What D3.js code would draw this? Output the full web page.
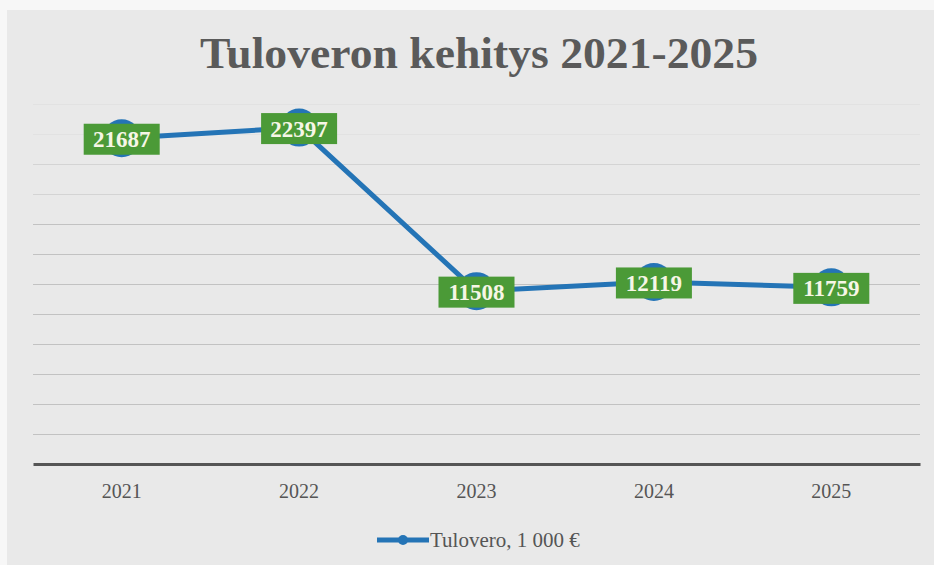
<!DOCTYPE html>
<html>
<head>
<meta charset="utf-8">
<script src="https://cdn.jsdelivr.net/npm/d3@7"></script>
<style>
    body { margin: 0; background: #f7f7f7; }
    svg { display: block; }
</style>
</head>
<body>
<div id="chart"></div>
<script>
// data
var years = ["2021", "2022", "2023", "2024", "2025"];
var tulovero = [21687, 22397, 11508, 12119, 11759];
var yTicks = [0, 2000, 4000, 6000, 8000, 10000, 12000, 14000, 16000, 18000, 20000, 22000, 24000];
var seriesName = "Tulovero, 1 000 €";
var title = "Tuloveron kehitys 2021-2025";

var width = 934,
    height = 565;

var serif = "'Liberation Serif', 'DejaVu Serif', serif";
var blue = "#2474b6";
var green = "#4b9a37";

var svg = d3.select("#chart").append("svg")
    .attr("width", width)
    .attr("height", height);

// paper background of the scan
svg.append("rect")
    .attr("x", 7).attr("y", 10)
    .attr("width", width - 7).attr("height", height - 10)
    .attr("fill", "#e9e9e9");

var x = d3.scaleBand()
    .domain(years)
    .range([33, 920]);

var y = d3.scaleLinear()
    .domain([0, 24000])
    .range([464, 103.5]);

// gridlines (the top ones are faded in the scan)
function gridColor(d) {
    if (d >= 22000) return "#e2e2e2";
    if (d >= 18000) return "#d4d4d4";
    return "#c2c2c2";
}

svg.append("g")
    .selectAll("line")
    .data(yTicks.slice(1))
    .enter().append("line")
    .attr("x1", 33).attr("x2", 920)
    .attr("y1", function (d) { return Math.round(y(d)) + 0.5; })
    .attr("y2", function (d) { return Math.round(y(d)) + 0.5; })
    .attr("stroke", gridColor)
    .attr("stroke-width", 1);

// x axis
var xAxis = svg.append("g")
    .attr("transform", "translate(0," + y(0) + ")")
    .call(d3.axisBottom(x).tickSize(0).tickPadding(20));

xAxis.select(".domain")
    .attr("stroke", "#555")
    .attr("stroke-width", 3);

xAxis.selectAll("text")
    .attr("font-family", serif)
    .attr("font-size", 20)
    .attr("fill", "#555");

// title
svg.append("text")
    .attr("x", 479)
    .attr("y", 68)
    .attr("text-anchor", "middle")
    .attr("font-family", serif)
    .attr("font-weight", "bold")
    .attr("font-size", 44)
    .attr("fill", "#5a5a5a")
    .attr("textLength", 558)
    .attr("lengthAdjust", "spacingAndGlyphs")
    .text(title);

// line
var line = d3.line()
    .x(function (d, i) { return x(years[i]) + x.bandwidth() / 2; })
    .y(function (d) { return y(d); });

svg.append("path")
    .datum(tulovero)
    .attr("d", line)
    .attr("fill", "none")
    .attr("stroke", blue)
    .attr("stroke-width", 5)
    .attr("stroke-linejoin", "round");

svg.append("g")
    .selectAll("circle")
    .data(tulovero)
    .enter().append("circle")
    .attr("cx", function (d, i) { return x(years[i]) + x.bandwidth() / 2; })
    .attr("cy", function (d) { return y(d); })
    .attr("r", 19)
    .attr("fill", blue);

// data labels
var labels = svg.append("g")
    .selectAll("g")
    .data(tulovero)
    .enter().append("g")
    .attr("transform", function (d, i) {
        return "translate(" + (x(years[i]) + x.bandwidth() / 2) + "," + (y(d) + 1) + ")";
    });

labels.append("rect")
    .attr("x", -38).attr("y", -15.5)
    .attr("width", 76).attr("height", 31)
    .attr("fill", green);

labels.append("text")
    .attr("text-anchor", "middle")
    .attr("dy", 8)
    .attr("font-family", serif)
    .attr("font-weight", "bold")
    .attr("font-size", 23)
    .attr("fill", "#f6f6e6")
    .text(function (d) { return d; });

// legend
var legend = svg.append("g")
    .attr("transform", "translate(377,540)");

legend.append("line")
    .attr("x1", 0).attr("x2", 52)
    .attr("stroke", blue)
    .attr("stroke-width", 5);

legend.append("circle")
    .attr("cx", 26)
    .attr("r", 5)
    .attr("fill", blue);

legend.append("text")
    .attr("x", 53)
    .attr("y", 7)
    .attr("font-family", serif)
    .attr("font-size", 21)
    .attr("fill", "#555")
    .text(seriesName);
</script>
</body>
</html>
